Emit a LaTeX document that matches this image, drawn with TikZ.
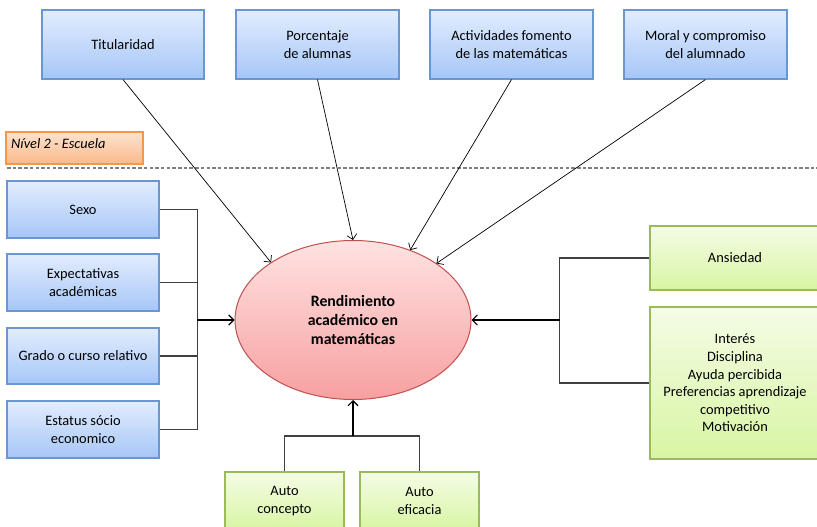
\documentclass[tikz,border=0pt]{standalone}
\usepackage{fontspec}
\setmainfont{Carlito}
\usetikzlibrary{shapes.geometric,arrows.meta,calc}
\definecolor{bluetop}{HTML}{E2EDFE}
\definecolor{bluebot}{HTML}{A6C6F7}
\definecolor{blueborder}{HTML}{6A96D2}
\definecolor{greentop}{HTML}{F4FCE6}
\definecolor{greenbot}{HTML}{D8F5A2}
\definecolor{greenborder}{HTML}{9BBB59}
\definecolor{orangetop}{HTML}{FDE3CF}
\definecolor{orangebot}{HTML}{F9B98A}
\definecolor{orangeborder}{HTML}{F79646}
\definecolor{redtop}{HTML}{FFE2E2}
\definecolor{redbot}{HTML}{F7A0A0}
\definecolor{redborder}{HTML}{C0504D}
\tikzset{
  txt/.style={font=\fontsize{14.4}{17.6}\selectfont, align=center, inner sep=0pt},
  bluebox/.style={txt, draw=blueborder, line width=1.1pt, top color=bluetop, bottom color=bluebot, rectangle},
  greenbox/.style={txt, draw=greenborder, line width=1.1pt, top color=greentop, bottom color=greenbot, rectangle},
  thinarrow/.style={line width=0.7pt, -{Straight Barb[length=5pt,width=10pt]}},
  mainarrow/.style={line width=1.5pt, -{Straight Barb[length=5pt,width=10pt,line width=1.1pt]}},
  bracket/.style={line width=1.2pt, draw=black!75}
}
\begin{document}
\begin{tikzpicture}[x=1pt,y=-1pt]
\useasboundingbox[fill=white] (0,0) rectangle (817,527);
% top school-level boxes
\node[bluebox, minimum width=162pt, minimum height=69pt] (tit) at (123,44.5) {Titularidad};
\node[bluebox, minimum width=163pt, minimum height=69pt] (porc) at (317.5,44.5) {Porcentaje\\de alumnas};
\node[bluebox, minimum width=163pt, minimum height=69pt] (act) at (511.5,44.5) {Actividades fomento\\de las matemáticas};
\node[bluebox, minimum width=163pt, minimum height=69pt] (moral) at (705.5,44.5) {Moral y compromiso\\del alumnado};
% level label
\node[draw=orangeborder, line width=1.1pt, top color=orangetop, bottom color=orangebot, minimum width=137pt, minimum height=32pt, inner sep=0pt] (nivel) at (74.5,148) {};
\node[txt, anchor=west, font=\fontsize{14.4}{16}\selectfont\itshape] (niveltxt) at (11,144) {Nível 2 - Escuela};
\coordinate (dl) at (7,168);
\coordinate (dr) at (817,168);
\draw[black!50, line width=1.6pt, dash pattern=on 3.5pt off 2.2pt] (dl) -- (dr);
% central ellipse
\node[ellipse, draw=redborder, line width=1pt, top color=redtop, bottom color=redbot, minimum width=236pt, minimum height=159pt, inner sep=0pt, align=center, font=\fontsize{15.8}{19}\selectfont\bfseries] (e) at (353,320) {Rendimiento\\académico en\\matemáticas};
% left student boxes
\node[bluebox, minimum width=152pt, minimum height=57pt] (sexo) at (83,209.5) {Sexo};
\node[bluebox, minimum width=152pt, minimum height=57pt] (exp) at (83,282.5) {Expectativas\\académicas};
\node[bluebox, minimum width=152pt, minimum height=56pt] (grado) at (83,356) {Grado o curso relativo};
\node[bluebox, minimum width=152pt, minimum height=57pt] (est) at (83,429.5) {Estatus sócio\\economico};
% right boxes
\node[greenbox, minimum width=170pt, minimum height=64pt] (ans) at (735,258) {Ansiedad};
\node[greenbox, minimum width=170pt, minimum height=152pt] (int) at (735,383) {Interés\\Disciplina\\Ayuda percibida\\Preferencias aprendizaje\\competitivo\\Motivación};
% bottom boxes
\node[greenbox, minimum width=119pt, minimum height=58pt] (ac) at (284.5,501) {Auto\\concepto};
\node[greenbox, minimum width=119pt, minimum height=58pt] (ae) at (419.5,501) {Auto\\eficacia};
% points on ellipse
\coordinate (eT) at ($(e.center)+(134:118pt and 80pt)$);
\coordinate (eP) at ($(e.center)+(90:118pt and 80pt)$);
\coordinate (eA) at ($(e.center)+(61:118pt and 80pt)$);
\coordinate (eM) at ($(e.center)+(45:118pt and 80pt)$);
% top arrows
\draw[thinarrow] (tit.south) -- (eT);
\draw[thinarrow] (porc.south) -- (eP);
\draw[thinarrow] (act.south) -- (eA);
\draw[thinarrow] (moral.south) -- (eM);
% left bracket
\coordinate (lj) at (197,320);
\draw[bracket] (sexo.east) -- ++(38,0) |- (est.east);
\draw[bracket] (exp.east) -- ++(38,0);
\draw[bracket] (grado.east) -- ++(38,0);
\draw[mainarrow] (lj) -- (e.west);
% right bracket
\coordinate (rj) at (560,320);
\draw[bracket] (ans.west) -- ++(-90,0) |- (int.west);
\draw[mainarrow] (rj) -- (e.east);
% bottom bracket
\coordinate (bj) at (353,436);
\draw[bracket] (ac.north) |- (bj) -| (ae.north);
\draw[mainarrow] (bj) -- (e.south);
\end{tikzpicture}
\end{document}
